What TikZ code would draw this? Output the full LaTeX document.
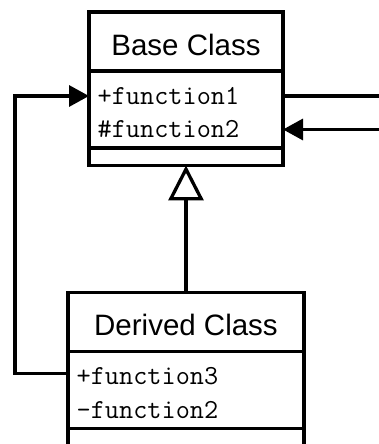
\documentclass[tikz,border=0pt]{standalone}
\usepackage{fontspec}
\setmainfont{Liberation Sans}
\usetikzlibrary{positioning,arrows.meta}

\begin{document}
\begin{tikzpicture}[x=1pt, y=1pt, line width=3.3pt, node distance=0pt]
    \tikzstyle{part}=[rectangle, draw=black, fill=white, inner sep=0pt, outer sep=0pt, minimum width=194pt]
    \tikzstyle{class name}=[part, minimum height=59pt, text height=28pt, text depth=0pt, font=\fontsize{29.5}{31}\selectfont]
    \tikzstyle{class ops}=[part, minimum height=77pt];
    \tikzstyle{class attrs}=[part, minimum height=17.5pt];
    \tikzstyle{method}=[anchor=west, inner sep=0pt, font=\ttfamily\fontsize{27.5}{29}\selectfont];
    \tikzstyle{call}=[-{Triangle[length=20pt, width=21pt]}, line join=miter];
    \tikzstyle{inherits}=[-{Triangle[open, length=35pt, width=35pt]}];

    \useasboundingbox (0,0) rectangle (379,444);

    % Draw the base class
    \node[class name] (BaseName) at (186,402.5) {Base Class};
    \node[class ops, below=of BaseName] (BaseOps) {};
    \node[class attrs, below=of BaseOps] (BaseAttrs) {};
    \node[method] (f1) at ([shift={(7,-25)}]BaseOps.north west) {+function1};
    \node[method] (f2) at ([shift={(7,-58.5)}]BaseOps.north west) {\#function2};

    % Draw the derived class
    \node[class name, minimum width=236pt, below=127pt of BaseAttrs] (DerivedName) {Derived Class};
    \node[class ops, minimum width=236pt, below=of DerivedName] (DerivedOps) {};
    \node[class attrs, minimum width=236pt, below=of DerivedOps] (DerivedAttrs) {};
    \node[method] (f3) at ([shift={(7,-25)}]DerivedOps.north west) {+function3};
    \node[method] (f4) at ([shift={(7,-58.5)}]DerivedOps.north west) {-function2};

    % Free ends on the right
    \coordinate (outA) at ([xshift=96pt]BaseOps.east |- f1);
    \coordinate (inB) at ([xshift=96pt]BaseOps.east |- f2);

    % Connect the classes
    \draw[inherits] (DerivedName) -- (BaseAttrs);
    \draw[call] ([yshift=3pt]DerivedOps.west |- f3) -- ++(-53,0) |- (BaseOps.west |- f1);
    \draw (BaseOps.east |- f1) -- (outA);
    \draw[call] (inB) -- (BaseOps.east |- f2);

\end{tikzpicture}
\end{document}
